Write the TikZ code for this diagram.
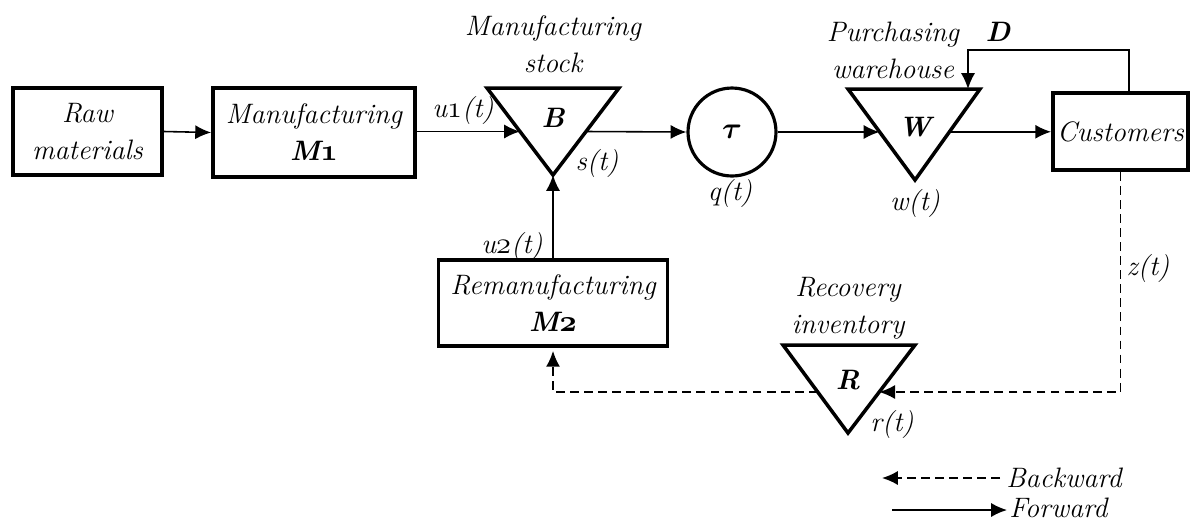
\documentclass[tikz,border=0pt]{standalone}
\usetikzlibrary{calc,arrows.meta}
\usepackage{bm}
\newcommand{\osone}{{\usefont{OML}{cmm}{m}{it}1}}
\newcommand{\ostwo}{{\usefont{OML}{cmm}{m}{it}2}}
\newcommand{\osboldone}{{\usefont{OML}{cmm}{b}{it}1}}
\newcommand{\osboldtwo}{{\usefont{OML}{cmm}{b}{it}2}}
\begin{document}
\begin{tikzpicture}[x=0.02cm,y=-0.02cm,
  every node/.style={font=\fontsize{16}{21}\selectfont\itshape},
  box/.style={draw,line width=2.2pt,rectangle,inner sep=0pt,align=center},
  tri/.style={draw,line width=2pt,line join=miter},
  lbl/.style={inner sep=0pt,align=center},
  arr/.style={line width=0.9pt,-{Latex[length=9pt,width=8pt]}},
  darr/.style={line width=0.9pt,dashed,dash pattern=on 5pt off 3pt,-{Latex[length=9pt,width=8pt]}}]
\useasboundingbox (0,0) rectangle (1196,522);

% boxes
\node[box,minimum width=2.98cm,minimum height=1.74cm] (raw) at (87.5,131.5) {Raw\\materials};
\node[box,minimum width=4.04cm,minimum height=1.78cm] (m1) at (314,132.5) {Manufacturing\\\textbf{M\osboldone}};
\node[box,minimum width=4.58cm,minimum height=1.72cm] (m2) at (553,303) {Remanufacturing\\\textbf{M\osboldtwo}};
\node[box,minimum width=2.70cm,minimum height=1.54cm] (cust) at (1120.5,131.5) {Customers};
\node[draw,circle,line width=1.8pt,minimum size=1.76cm,inner sep=0pt] (tau) at (732,132) {$\bm{\tau}$};

% triangles
\coordinate (B1) at (487,88); \coordinate (B2) at (619,88); \coordinate (B3) at (553,175);
\draw[tri] (B1) -- (B2) -- (B3) -- cycle;
\node[lbl] (Blab) at (553,118) {\textbf{B}};
\coordinate (W1) at (848,89); \coordinate (W2) at (980,89); \coordinate (W3) at (915,180);
\draw[tri] (W1) -- (W2) -- (W3) -- cycle;
\node[lbl] (Wlab) at (915,127) {\textbf{W}};
\coordinate (R1) at (783,345); \coordinate (R2) at (915,345); \coordinate (R3) at (848,433);
\draw[tri] (R1) -- (R2) -- (R3) -- cycle;
\node[lbl] (Rlab) at (848,380) {\textbf{R}};

\coordinate (Bl) at ($(B1)!0.5!(B3)$);
\coordinate (Br) at ($(B2)!0.5!(B3)$);
\coordinate (Wl) at ($(W1)!0.47!(W3)$);
\coordinate (Wr) at ($(W2)!0.47!(W3)$);
\coordinate (Wt) at ($(W1)!0.909!(W2)$);
\coordinate (Rl) at ($(R1)!0.534!(R3)$);
\coordinate (Rr) at ($(R2)!0.534!(R3)$);
\coordinate (Ds) at ($(cust.north west)!0.56!(cust.north east)$);

% forward connectors
\draw[arr] (raw.east) -- (m1.west);
\draw[arr] (m1.east |- Bl) -- (Bl);
\draw[arr] (Br) -- (tau.west);
\draw[arr] (tau.east) -- (tau.east -| Wl);
\draw[arr] (Wr) -- (Wr -| cust.west);
\draw[arr] (m2.north) -- (B3);
\draw[arr] (Ds) -- ++(0,-41) -| (Wt);

% backward connectors
\draw[darr] (cust.south) |- (Rr);
\draw[line width=0.9pt,dashed,dash pattern=on 5pt off 3pt] (Rl) -| ($(m2.south)+(0,6)$);
\draw[darr] ($(m2.south)+(0,10)$) -- ($(m2.south)+(0,3)$);

% labels
\node[lbl] (lm) at (553,44) {Manufacturing\\stock};
\node[lbl] (lp) at (893,50) {Purchasing\\warehouse};
\node[lbl] (lr) at (848,308) {Recovery\\inventory};
\node[lbl] (lD) at (998,32) {\textbf{D}};
\node[lbl] (lu1) at (463,110) {u\osone(t)};
\node[lbl] (ls) at (597,163) {s(t)};
\node[lbl] (lq) at (730,193) {q(t)};
\node[lbl] (lu2) at (512,246) {u\ostwo(t)};
\node[lbl] (lw) at (915,203) {w(t)};
\node[lbl] (lz) at (1148,268) {z(t)};
\node[lbl] (lrt) at (892,424) {r(t)};

% legend
\coordinate (bk1) at (1000,478); \coordinate (bk2) at (882,478);
\coordinate (fw1) at (892,510); \coordinate (fw2) at (1007,510);
\draw[darr] (bk1) -- (bk2);
\draw[arr] (fw1) -- (fw2);
\node[lbl,anchor=west] (lb) at (1006,478) {Backward};
\node[lbl,anchor=west] (lf) at (1009,508) {Forward};
\end{tikzpicture}
\end{document}
